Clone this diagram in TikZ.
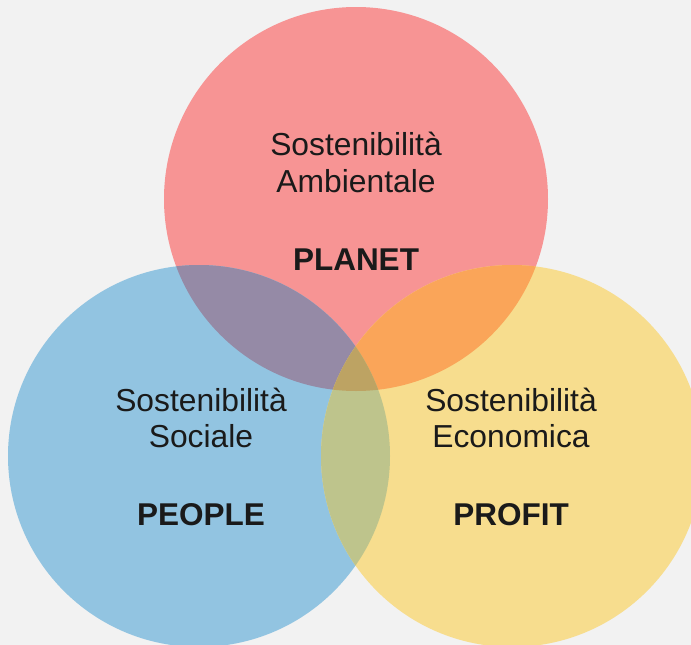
\documentclass[tikz,border=0pt]{standalone}
\usepackage{fontspec}
\setmainfont{Liberation Sans}
\usepackage{xcolor}
\definecolor{Backdrop}{HTML}{F2F2F2}
\definecolor{Planet_Red}{HTML}{F79494}
\definecolor{People_Blue}{HTML}{92C4E1}
\definecolor{Profit_Yellow}{HTML}{F7DD8E}
\definecolor{Mix_Purple}{HTML}{958AA6}
\definecolor{Mix_Orange}{HTML}{FAA559}
\definecolor{Mix_Green}{HTML}{BEC48C}
\definecolor{Mix_Centre}{HTML}{BDA363}
\definecolor{Ink}{HTML}{1A1A1A}

\begin{document}
\begin{tikzpicture}[x=1pt, y=-1pt,
    label/.style={anchor=base, text=Ink, font=\fontsize{31.8}{37}\selectfont},
    tag/.style={anchor=base, text=Ink, font=\fontsize{31.5}{37}\selectfont\bfseries}]

    % Canvas
    \useasboundingbox (0,0) rectangle (691,645);
    \fill[Backdrop] (0,0) rectangle (691,645);
    \clip (0,0) rectangle (691,645);

    % Circle centres
    \coordinate (planet) at (356,199);
    \coordinate (people) at (199,456);
    \coordinate (profit) at (512,456);

    % Circles
    \fill[Planet_Red] (planet) circle (192);
    \fill[People_Blue] (people) circle (191);
    \fill[Profit_Yellow] (profit) circle (191);

    % Pairwise overlaps
    \begin{scope}
        \clip (planet) circle (192);
        \fill[Mix_Purple] (people) circle (191);
        \fill[Mix_Orange] (profit) circle (191);
    \end{scope}
    \begin{scope}
        \clip (people) circle (191);
        \fill[Mix_Green] (profit) circle (191);
    \end{scope}

    % Centre overlap
    \begin{scope}
        \clip (planet) circle (192);
        \clip (people) circle (191);
        \fill[Mix_Centre] (profit) circle (191);
    \end{scope}

    % Planet texts
    \node[label] (planetA) at (356,155) {Sostenibilità};
    \node[label] (planetB) at (356,192) {Ambientale};
    \node[tag] (planetT) at (356,270) {PLANET};

    % People texts
    \node[label] (peopleA) at (201,411) {Sostenibilità};
    \node[label] (peopleB) at (201,447) {Sociale};
    \node[tag] (peopleT) at (201,525) {PEOPLE};

    % Profit texts
    \node[label] (profitA) at (511,411) {Sostenibilità};
    \node[label] (profitB) at (511,447) {Economica};
    \node[tag] (profitT) at (511,525) {PROFIT};

\end{tikzpicture}
\end{document}
